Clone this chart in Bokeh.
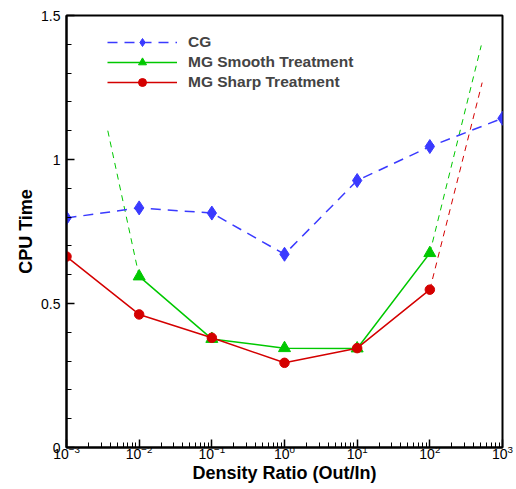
from bokeh.plotting import figure
from bokeh.models import FixedTicker, LogTicker, Legend, LegendItem, Range1d
from bokeh.embed import file_html
from bokeh.resources import INLINE

# Data
ratio = [1e-3, 1e-2, 1e-1, 1e0, 1e1, 1e2, 1e3]
cg = [0.797, 0.832, 0.814, 0.671, 0.927, 1.045, 1.143]

smooth_x = [1e-2, 1e-1, 1e0, 1e1, 1e2]
smooth_y = [0.594, 0.377, 0.345, 0.344, 0.675]

sharp_x = [1e-3, 1e-2, 1e-1, 1e0, 1e1, 1e2]
sharp_y = [0.663, 0.462, 0.381, 0.294, 0.345, 0.548]

smooth_ext_left_x = [3.7e-3, 1e-2]
smooth_ext_left_y = [1.10, 0.594]
smooth_ext_right_x = [1e2, 510]
smooth_ext_right_y = [0.675, 1.396]
sharp_ext_x = [1e2, 525]
sharp_ext_y = [0.548, 1.267]

y_major = [0, 0.5, 1, 1.5]
y_minor = [0.1, 0.2, 0.3, 0.4, 0.6, 0.7, 0.8, 0.9, 1.1, 1.2, 1.3, 1.4]

BLUE = "#3a3aff"
GREEN = "#00c800"
RED = "#d40000"
FONT = "Liberation Sans"

p = figure(width=516, height=489, x_axis_type="log",
           x_range=Range1d(1e-3, 1e3), y_range=Range1d(0, 1.5),
           output_backend="svg", toolbar_location=None,
           min_border_left=66, min_border_right=14, min_border_top=15, min_border_bottom=42)

p.xgrid.visible = False
p.ygrid.visible = False
p.outline_line_color = "black"
p.outline_line_width = 2
p.background_fill_color = "white"
p.border_fill_color = "white"

# extrapolation dashed lines
p.line(smooth_ext_left_x, smooth_ext_left_y, color=GREEN, line_width=1, line_dash="6 5")
p.line(smooth_ext_right_x, smooth_ext_right_y, color=GREEN, line_width=1, line_dash="6 5")
p.line(sharp_ext_x, sharp_ext_y, color=RED, line_width=1, line_dash="6 5")

g_line = p.line(smooth_x, smooth_y, color=GREEN, line_width=1.5)
g_mark = p.scatter(smooth_x, smooth_y, marker="triangle", size=12, color=GREEN)
r_line = p.line(sharp_x, sharp_y, color=RED, line_width=1.5)
r_mark = p.scatter(sharp_x, sharp_y, marker="circle", size=9.5, color=RED)
b_line = p.line(ratio, cg, color=BLUE, line_width=1.5, line_dash="10 7")
b_mark = p.scatter(ratio, cg, marker="diamond", size=14, color=BLUE)

legend = Legend(items=[
    LegendItem(label="CG", renderers=[b_line, b_mark]),
    LegendItem(label="MG Smooth Treatment", renderers=[g_line, g_mark]),
    LegendItem(label="MG Sharp Treatment", renderers=[r_line, r_mark]),
], location=(41, 355), margin=0, padding=0, spacing=0,
    glyph_width=70, glyph_height=20, label_height=20, label_standoff=11,
    label_text_font=FONT, label_text_font_style="bold", label_text_font_size="15.5px",
    border_line_color=None, background_fill_alpha=0)
p.add_layout(legend, "center")

# axes
xa = p.xaxis[0]
xa.ticker = LogTicker(desired_num_ticks=7, num_minor_ticks=10)
ya = p.yaxis[0]
ya.ticker = FixedTicker(ticks=y_major, minor_ticks=y_minor)

for ax in (xa, ya):
    ax.axis_line_width = 2
    ax.axis_line_color = "black"
    ax.major_tick_in = 8
    ax.major_tick_out = 0
    ax.minor_tick_in = 5
    ax.minor_tick_out = 0
    ax.major_tick_line_width = 1.5
    ax.minor_tick_line_width = 1
    ax.major_label_text_font = FONT
    ax.major_label_text_font_size = "14px"
    ax.major_label_text_color = "black"
    ax.axis_label_text_font = FONT
    ax.axis_label_text_font_style = "bold"
    ax.axis_label_text_font_size = "18px"
    ax.axis_label_text_color = "black"

xa.axis_label = "Density Ratio (Out/In)"
xa.major_label_standoff = -3
xa.axis_label_standoff = 1
ya.axis_label = "CPU Time"
ya.major_label_standoff = 6
ya.axis_label_standoff = 2

open("out.html", "w").write(file_html(p, INLINE))
